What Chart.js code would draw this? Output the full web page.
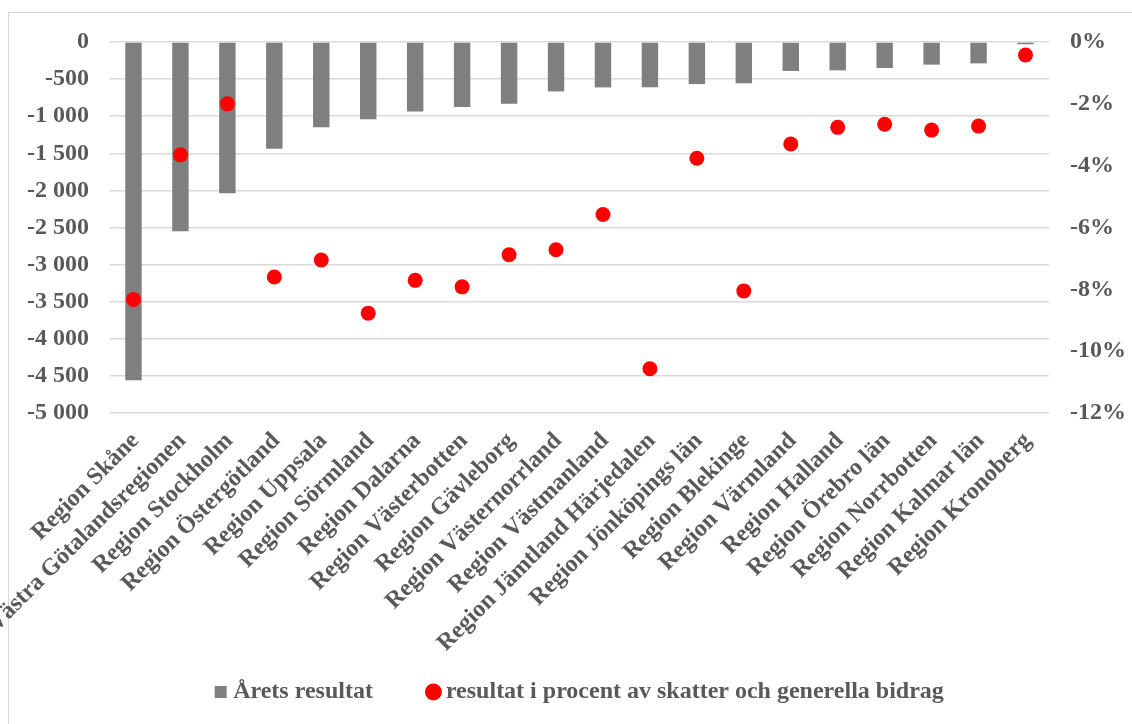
<!DOCTYPE html>
<html lang="sv">
<head>
  <meta charset="UTF-8">
  <title>Årets resultat per region</title>
  <script src="https://cdn.jsdelivr.net/npm/chart.js"></script>
  <style>
    body { margin: 0; background: #fff; }
    .wrap { position: relative; width: 1132px; height: 724px; overflow: hidden; }
    .frame {
      position: absolute; left: 8px; top: 12px; width: 1200px; height: 800px;
      border-left: 1.5px solid #d9d9d9; border-top: 1.5px solid #d9d9d9;
    }
    canvas { position: absolute; left: 0; top: 0; }
  </style>
</head>
<body>
<div class="wrap">
  <div class="frame"></div>
  <canvas id="chart" width="1132" height="724"></canvas>
</div>
<script>
  const regions = [
    'Region Skåne', 'Västra Götalandsregionen', 'Region Stockholm', 'Region Östergötland',
    'Region Uppsala', 'Region Sörmland', 'Region Dalarna', 'Region Västerbotten',
    'Region Gävleborg', 'Region Västernorrland', 'Region Västmanland', 'Region Jämtland Härjedalen',
    'Region Jönköpings län', 'Region Blekinge', 'Region Värmland', 'Region Halland',
    'Region Örebro län', 'Region Norrbotten', 'Region Kalmar län', 'Region Kronoberg'
  ];
  // Årets resultat, mnkr
  const result = [-4560, -2550, -2040, -1440, -1150, -1040, -935, -877, -832, -666,
                  -612, -610, -567, -556, -390, -382, -350, -305, -288, -30];
  // resultat i procent av skatter och generella bidrag
  const percent = [-8.33, -3.65, -2.0, -7.6, -7.05, -8.77, -7.71, -7.92, -6.88, -6.72,
                   -5.58, -10.57, -3.76, -8.05, -3.3, -2.76, -2.66, -2.85, -2.72, -0.42];
  const leftTicks = [0, -500, -1000, -1500, -2000, -2500, -3000, -3500, -4000, -4500, -5000];
  const rightTicks = [0, -2, -4, -6, -8, -10, -12];

  const serif = "'Liberation Serif', 'Times New Roman', serif";
  const font = { family: serif, weight: 'bold', size: 24 };
  const textColor = '#595959';

  function fmtThousands(v) {
    const s = Math.abs(v).toString().replace(/\B(?=(\d{3})+(?!\d))/g, ' ');
    return (v < 0 ? '-' : '') + s;
  }

  // nudge the legend a bit to the right like the original, and let the
  // long rotated category labels run past the axis box (no clipping)
  const layoutTweaks = {
    id: 'layoutTweaks',
    afterUpdate(chart) {
      chart.legend.left += 16;
      chart.legend.right += 16;
      chart.scales.x.bottom = chart.height;
    }
  };

  new Chart(document.getElementById('chart'), {
    data: {
      labels: regions,
      datasets: [
        {
          type: 'line',
          label: 'resultat i procent av skatter och generella bidrag',
          data: percent,
          yAxisID: 'y1',
          showLine: false,
          pointStyle: 'circle',
          pointRadius: 7.5,
          pointBackgroundColor: '#ff0000',
          pointBorderWidth: 0,
          backgroundColor: '#ff0000',
          borderColor: '#ff0000',
          borderWidth: 0,
          order: 0
        },
        {
          type: 'bar',
          label: 'Årets resultat',
          data: result,
          yAxisID: 'y',
          backgroundColor: '#7f7f7f',
          borderColor: '#7f7f7f',
          borderWidth: 0,
          pointStyle: 'rect',
          categoryPercentage: 1,
          barPercentage: 0.35,
          order: 1
        }
      ]
    },
    options: {
      responsive: false,
      animation: false,
      layout: { padding: { top: 42, left: 0, right: 0, bottom: 10 } },
      plugins: {
        tooltip: { enabled: false },
        legend: {
          position: 'bottom',
          reverse: true,
          labels: {
            usePointStyle: true,
            boxWidth: 1,
            boxHeight: 12,
            padding: 60,
            color: textColor,
            font: { family: serif, weight: 'bold', size: 24 }
          }
        }
      },
      scales: {
        x: {
          grid: { display: false },
          border: { display: false },
          ticks: {
            color: textColor,
            font: font,
            minRotation: 45,
            maxRotation: 45,
            autoSkip: false,
            labelOffset: 2,
            padding: 6
          },
          afterFit: (axis) => { axis.height = 207; }
        },
        y: {
          position: 'left',
          min: -5000,
          max: 0,
          afterBuildTicks: (axis) => { axis.ticks = leftTicks.map(v => ({ value: v })); },
          grid: { color: '#d9d9d9', lineWidth: 1.5, drawTicks: false },
          border: { display: false },
          ticks: {
            color: textColor,
            font: font,
            padding: 21,
            callback: (v) => fmtThousands(v)
          },
          afterFit: (axis) => { axis.width = 110; }
        },
        y1: {
          position: 'right',
          min: -12,
          max: 0,
          afterBuildTicks: (axis) => { axis.ticks = rightTicks.map(v => ({ value: v })); },
          grid: { display: false, drawTicks: false },
          border: { display: false },
          ticks: {
            color: textColor,
            font: font,
            padding: 21,
            callback: (v) => v + '%'
          },
          afterFit: (axis) => { axis.width = 83; }
        }
      }
    },
    plugins: [layoutTweaks]
  });
</script>
</body>
</html>
